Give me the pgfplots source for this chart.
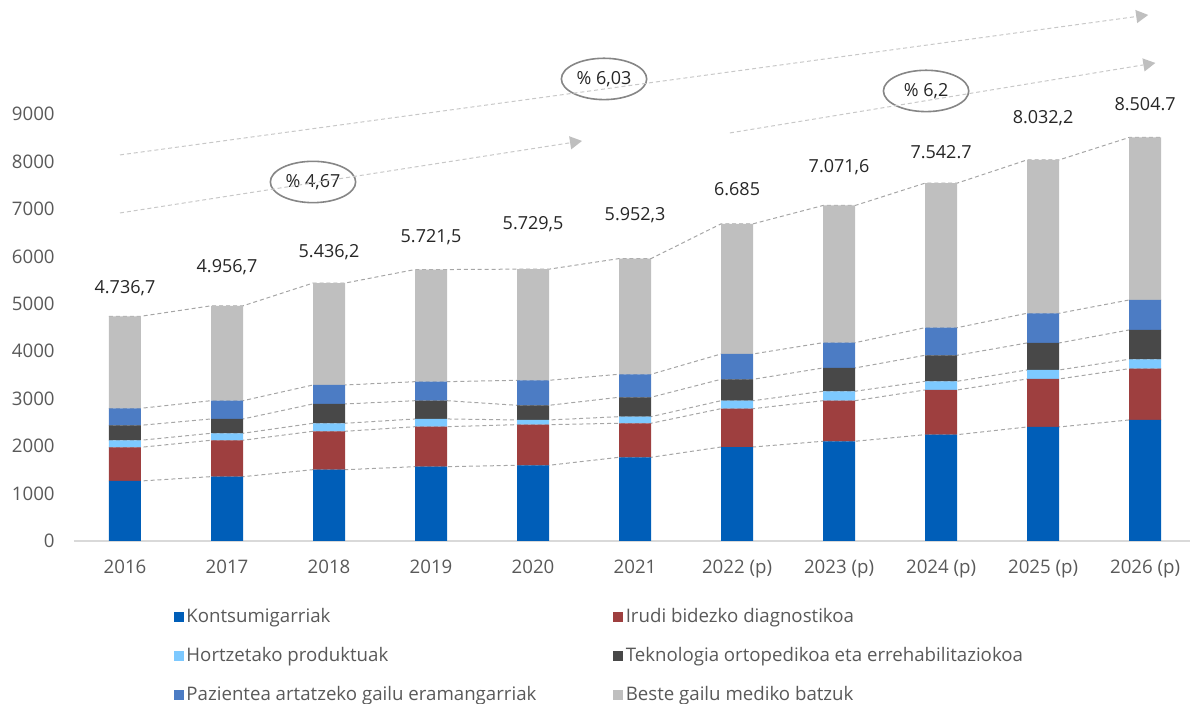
\documentclass[border=0pt]{standalone}
\usepackage{fontspec}
\setmainfont{Open Sans}
\usepackage{pgfplots}
\pgfplotsset{compat=1.18}
\usepackage{pgfplotstable}
\usetikzlibrary{shapes.geometric,arrows.meta}

\definecolor{cK}{HTML}{005EB8}
\definecolor{cI}{HTML}{9E3F3F}
\definecolor{cH}{HTML}{7DC9FF}
\definecolor{cT}{HTML}{484848}
\definecolor{cP}{HTML}{4C7CC4}
\definecolor{cB}{HTML}{BFBFBF}
\definecolor{connC}{HTML}{A6A6A6}
\definecolor{arrC}{HTML}{C8C8C8}
\definecolor{tickC}{HTML}{595959}
\definecolor{txtC}{HTML}{262626}
\definecolor{axC}{HTML}{D9D9D9}

% segment values per year (x = 0 for 2016 ... 10 for 2026)
\pgfplotstableread{
x K I H T P B
0 1265 710 148 316 358 1939.7
1 1356 767 147 302 385 1999.7
2 1503 809 169 407 400 2148.2
3 1566 843 163 385 401 2363.5
4 1596 856 99 309 527 2342.5
5 1764 717 139 409 485 2438.3
6 1981 808 168 451 534 2743
7 2102 855 199 491 533 2891.6
8 2241 942 183 548 582 3046.7
9 2403 1012 190 569 626 3232.2
10 2551 1081 198 618 632 3424.7
}\data

% same values at the left and right edges of each bar, for the connector lines
\pgfplotstableread{
x K I H T P B
-0.157 1265 710 148 316 358 1939.7
0.157 1265 710 148 316 358 1939.7
0.843 1356 767 147 302 385 1999.7
1.157 1356 767 147 302 385 1999.7
1.843 1503 809 169 407 400 2148.2
2.157 1503 809 169 407 400 2148.2
2.843 1566 843 163 385 401 2363.5
3.157 1566 843 163 385 401 2363.5
3.843 1596 856 99 309 527 2342.5
4.157 1596 856 99 309 527 2342.5
4.843 1764 717 139 409 485 2438.3
5.157 1764 717 139 409 485 2438.3
5.843 1981 808 168 451 534 2743
6.157 1981 808 168 451 534 2743
6.843 2102 855 199 491 533 2891.6
7.157 2102 855 199 491 533 2891.6
7.843 2241 942 183 548 582 3046.7
8.157 2241 942 183 548 582 3046.7
8.843 2403 1012 190 569 626 3232.2
9.157 2403 1012 190 569 626 3232.2
9.843 2551 1081 198 618 632 3424.7
10.157 2551 1081 198 618 632 3424.7
}\lines

\pgfplotsset{
  common/.style={
    scale only axis, width=837pt, height=320.25pt,
    xmin=-0.5, xmax=10.44, ymin=0, ymax=9000, clip=false,
  },
  conn/.style={connC, line width=0.75pt, dash pattern=on 3pt off 2.2pt},
}
\tikzset{
  arr/.style={arrC, line width=0.75pt, dash pattern=on 3pt off 2.2pt,
    -{Triangle[length=9pt,width=10pt,fill=cB,color=cB,line width=0pt]}},
  ell/.style={ellipse, draw=gray!95, line width=1.2pt, fill=white, inner sep=0pt,
    minimum width=64pt, minimum height=31pt, text=txtC,
    font=\fontsize{13.5}{16}\selectfont},
  vlab/.style={text=txtC, font=\fontsize{13.5}{16}\selectfont},
}

\begin{document}
\begin{tikzpicture}
\begin{axis}[common, hide axis, stack plots=y, no markers]
\addplot[conn] table[x=x,y=K]{\lines};
\addplot[conn] table[x=x,y=I]{\lines};
\addplot[conn] table[x=x,y=H]{\lines};
\addplot[conn] table[x=x,y=T]{\lines};
\addplot[conn] table[x=x,y=P]{\lines};
\addplot[conn] table[x=x,y=B]{\lines};
\end{axis}

\begin{axis}[common,
  ybar stacked, bar width=24pt,
  axis lines*=left,
  x axis line style={draw=axC, line width=1.5pt},
  y axis line style={draw=none},
  major tick length=0pt,
  xtick={0,...,10},
  xticklabels={2016,2017,2018,2019,2020,2021,2022 (p),2023 (p),2024 (p),2025 (p),2026 (p)},
  ytick={0,1000,...,9000},
  /pgf/number format/1000 sep={},
  /pgf/number format/assume math mode=true,
  ticklabel style={text=tickC, font=\fontsize{14}{16}\selectfont},
  xticklabel style={yshift=-11pt},
  yticklabel style={xshift=-11pt},
  legend columns=2,
  legend cell align=left,
  legend image code/.code={\fill (0pt,-3.75pt) rectangle (7.5pt,3.75pt);},
  legend style={at={(rel axis cs:0.0856,-0.145)}, anchor=north west,
    draw=none, fill=none, text=tickC, font=\fontsize{14}{16}\selectfont,
    row sep=13.2pt, nodes={inner sep=2pt}},
]
\addplot[fill=cK, draw=none] table[x=x,y=K]{\data};
\addlegendentry{\makebox[318pt][l]{Kontsumigarriak}}
\addplot[fill=cI, draw=none] table[x=x,y=I]{\data};
\addlegendentry{Irudi bidezko diagnostikoa}
\addplot[fill=cH, draw=none] table[x=x,y=H]{\data};
\addlegendentry{\makebox[318pt][l]{Hortzetako produktuak}}
\addplot[fill=cT, draw=none] table[x=x,y=T]{\data};
\addlegendentry{Teknologia ortopedikoa eta errehabilitaziokoa}
\addplot[fill=cP, draw=none] table[x=x,y=P]{\data};
\addlegendentry{\makebox[318pt][l]{Pazientea artatzeko gailu eramangarriak}}
\addplot[fill=cB, draw=none] table[x=x,y=B]{\data};
\addlegendentry{Beste gailu mediko batzuk}

% value labels
\node[vlab] at (axis cs:0,5333) {4.736,7};
\node[vlab] at (axis cs:1,5776) {4.956,7};
\node[vlab] at (axis cs:2,6092) {5.436,2};
\node[vlab] at (axis cs:3,6408) {5.721,5};
\node[vlab] at (axis cs:4,6682) {5.729,5};
\node[vlab] at (axis cs:5,6872) {5.952,3};
\node[vlab] at (axis cs:6,7420) {6.685};
\node[vlab] at (axis cs:7,7884) {7.071,6};
\node[vlab] at (axis cs:8,8200) {7.542.7};
\node[vlab] at (axis cs:9,8917) {8.032,2};
\node[vlab] at (axis cs:10,9212) {8.504.7};

% growth arrows
\draw[arr] (axis cs:-0.049,8137) -- (axis cs:10.03,11088);
\draw[arr] (axis cs:-0.049,6914) -- (axis cs:4.48,8432);
\draw[arr] (axis cs:5.93,8601) -- (axis cs:10.10,10076);
\node[ell] at (axis cs:1.843,7567) {\% 4,67};
\node[ell] at (axis cs:4.696,9739) {\% 6,03};
\node[ell] at (axis cs:7.853,9486) {\% 6,2};

\coordinate (bbSW) at (rel axis cs:-0.0663,-0.3817);
\coordinate (bbNE) at (rel axis cs:1.0018,1.267);
\end{axis}
\pgfresetboundingbox
\path[use as bounding box] (bbSW) rectangle (bbNE);
\end{tikzpicture}
\end{document}
